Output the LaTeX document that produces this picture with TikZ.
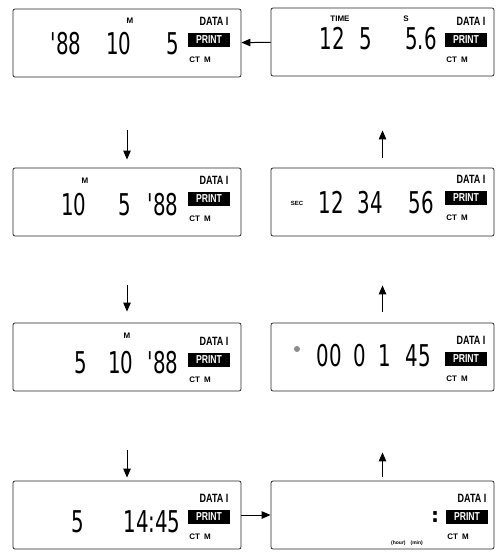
\documentclass[tikz,border=0pt]{standalone}
\usepackage{graphicx}
\usepackage{fontspec}
\usetikzlibrary{arrows.meta}
\newfontfamily\lcdfont{DejaVu Sans}
\newfontfamily\tagfont{Liberation Sans}
\newcommand{\narrow}[1]{\scalebox{0.66}[1]{#1}}
\newcommand{\squeeze}[1]{\scalebox{0.75}[1]{#1}}

\begin{document}
\begin{tikzpicture}[x=1pt, y=-1pt,
        panel/.style={draw=black!85, line width=0.8pt, rounded corners=2pt, minimum height=68pt, inner sep=0pt},
        digits/.style={font=\lcdfont\fontsize{30}{30}\selectfont, anchor=base, inner sep=0pt},
        tag/.style={font=\tagfont\bfseries\fontsize{8}{8}\selectfont, inner sep=0pt},
        datatag/.style={font=\tagfont\bfseries\fontsize{12}{12}\selectfont, inner sep=0pt},
        printbox/.style={fill=black, text=white, font=\tagfont\bfseries\fontsize{11.5}{11.5}\selectfont,
                minimum width=42pt, minimum height=14pt, inner sep=0pt},
        flow/.style={-{Triangle[length=9pt,width=7.5pt]}, line width=1pt}]
    \useasboundingbox (0,0) rectangle (497,559);

    % display panels
    \node[panel, minimum width=228pt] (dA) at (127,43) {};
    \node[panel, minimum width=223pt] (dB) at (382.5,42) {};
    \node[panel, minimum width=228pt] (dC) at (127,202) {};
    \node[panel, minimum width=223pt] (dD) at (382.5,202) {};
    \node[panel, minimum width=228pt] (dE) at (127,357) {};
    \node[panel, minimum width=223pt] (dF) at (382.5,357) {};
    \node[panel, minimum width=228pt] (dG) at (127,515) {};
    \node[panel, minimum width=223pt] (dH) at (382.5,515) {};

    % DATA, PRINT and CT M in every panel
    \foreach \px/\py [count=\i] in {209/40, 466/40, 209/199, 466/198, 209/360, 466/359, 209/517, 467/517} {
            \node[printbox] (print\i) at (\px,\py) {\squeeze{PRINT}};
            \node[datatag] (data\i) at (\px+5,\py-19) {\squeeze{DATA I}};
            \node[tag] (ctm\i) at (\px-9,\py+20) {CT\enspace M};
        }

    % year month day
    \node[digits] (aYear) at (66,55) {\narrow{'88}};
    \node[digits] (aMonth) at (119,55) {\narrow{10}};
    \node[digits] (aDay) at (173,55) {\narrow{5}};
    \node[tag] (aM) at (130,21) {M};

    % month day year
    \node[digits] (cMonth) at (74,215) {\narrow{10}};
    \node[digits] (cDay) at (125,215) {\narrow{5}};
    \node[digits] (cYear) at (163,215) {\narrow{'88}};
    \node[tag] (cM) at (85,181) {M};

    % day month year
    \node[digits] (eDay) at (81,373) {\narrow{5}};
    \node[digits] (eMonth) at (121,373) {\narrow{10}};
    \node[digits] (eYear) at (163,373) {\narrow{'88}};
    \node[tag] (eM) at (127,336) {M};

    % day and time
    \node[digits] (gDay) at (78,532) {\narrow{5}};
    \node[digits] (gTime) at (152,532) {\narrow{14:45}};

    % empty time
    \node[font=\lcdfont\bfseries\fontsize{20}{20}\selectfont, inner sep=0pt] (hColon) at (435,517) {:};
    \node[font=\tagfont\bfseries\fontsize{5}{5}\selectfont, inner sep=0pt] (hUnits) at (407,543) {(hour)\quad(min)};

    % elapsed time
    \fill[black!45] (297,349) circle (3);
    \node[digits] (fHour) at (329,366) {\narrow{00}};
    \node[digits] (fMin) at (360,366) {\narrow{0}};
    \node[digits] (fOne) at (385,366) {\narrow{1}};
    \node[digits] (fSec) at (418,366) {\narrow{45}};

    % seconds
    \node[font=\tagfont\bfseries\fontsize{6}{6}\selectfont, inner sep=0pt] (dSec) at (297,203) {SEC};
    \node[digits] (dOne) at (331,213) {\narrow{12}};
    \node[digits] (dTwo) at (370,213) {\narrow{34}};
    \node[digits] (dThree) at (421,213) {\narrow{56}};

    % time and shutter
    \node[digits] (bTime) at (332,50) {\narrow{12}};
    \node[digits] (bFive) at (366,50) {\narrow{5}};
    \node[digits] (bStop) at (421,50) {\narrow{5.6}};
    \node[tag] (bTimeTag) at (340,19) {TIME};
    \node[tag] (bS) at (406,19) {S};

    % order of the displays
    \draw[flow, shorten <=53pt, shorten >=8pt] (dA) -- (dC);
    \draw[flow, shorten <=49pt, shorten >=11pt] (dC) -- (dE);
    \draw[flow, shorten <=59pt, shorten >=3pt] (dE) -- (dG);
    \draw[flow] (dG) -- (dH);
    \draw[flow, shorten <=4pt, shorten >=61pt] (dH) -- (dF);
    \draw[flow, shorten <=11pt, shorten >=49pt] (dF) -- (dD);
    \draw[flow, shorten <=10pt, shorten >=54pt] (dD) -- (dB);
    \draw[flow] (dB) -- (dA);
\end{tikzpicture}
\end{document}
